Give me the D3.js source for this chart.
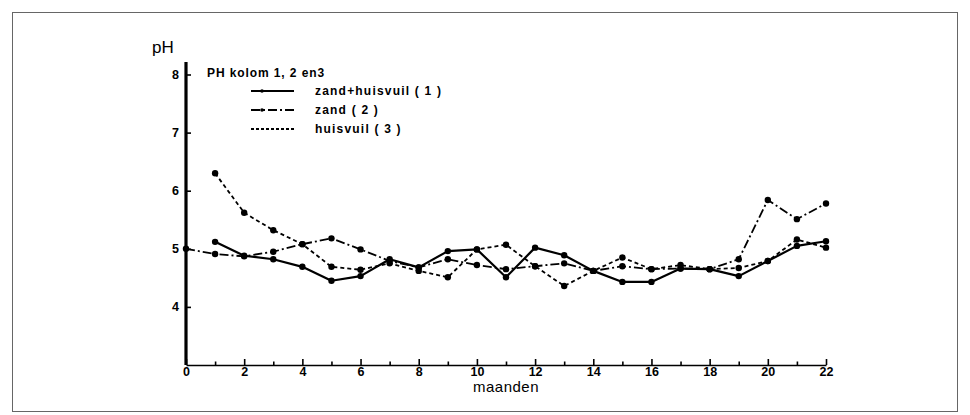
<!DOCTYPE html>
<html>
<head>
<meta charset="utf-8">
<script src="https://cdn.jsdelivr.net/npm/d3@7"></script>
<style>
  body { margin: 0; background: #fff; }
  svg { display: block; }
  text { font-family: "Liberation Sans", Arial, sans-serif; fill: #000; }
</style>
</head>
<body>
<div id="graph"></div>
<script>
// months 0..22, null = not measured
var months = [0, 1, 2, 3, 4, 5, 6, 7, 8, 9, 10, 11, 12, 13, 14, 15, 16, 17, 18, 19, 20, 21, 22];

var zandHuisvuil = [null, 5.12, 4.88, 4.82, 4.69, 4.45, 4.53, 4.82, 4.68, 4.96, 4.99, 4.51,
                    5.02, 4.89, 4.62, 4.43, 4.43, 4.66, 4.65, 4.53, 4.79, 5.05, 5.13];
var zand = [5.00, 4.91, 4.87, 4.95, 5.08, 5.18, 4.99, 4.79, 4.68, 4.82, 4.72, 4.65,
            4.70, 4.75, 4.62, 4.70, 4.65, 4.66, 4.65, 4.82, 5.84, 5.51, 5.78];
var huisvuil = [null, 6.30, 5.62, 5.32, 5.08, 4.69, 4.64, 4.75, 4.62, 4.51, 4.99, 5.07,
                4.70, 4.36, 4.62, 4.85, 4.65, 4.72, 4.65, 4.67, 4.79, 5.16, 5.02];

var seriesNames = ["zand+huisvuil ( 1 )", "zand ( 2 )", "huisvuil ( 3 )"];
var xTicks = [0, 2, 4, 6, 8, 10, 12, 14, 16, 18, 20, 22];
var yTicks = [4, 5, 6, 7, 8];

var width = 970, height = 415;
var svg = d3.select("#graph").append("svg")
    .attr("width", width).attr("height", height);

// outer frame
svg.append("rect")
    .attr("x", 12.5).attr("y", 12.5)
    .attr("width", 945).attr("height", 399)
    .attr("fill", "none").attr("stroke", "#666").attr("stroke-width", 1);

var x = d3.scaleLinear().domain([0, 22]).range([186, 826]);
var y = d3.scaleLinear().domain([3, 8]).range([365, 74.5]);

var styles = [
  { dash: null, width: 2.2 },
  { dash: "9,3,2,3", width: 1.8 },
  { dash: "4,3", width: 1.8 }
];

// x axis
var xAxis = svg.append("g")
    .attr("transform", "translate(0," + y(3) + ")")
    .call(d3.axisBottom(x).tickValues(months).tickSize(-6).tickSizeOuter(0).tickPadding(1)
      .tickFormat(function(d) { return xTicks.indexOf(d) >= 0 ? d : ""; }));
xAxis.select(".domain").attr("stroke-width", 1.6);
xAxis.selectAll(".tick line")
    .attr("y2", function(d) { return d % 2 ? -3.5 : -6; })
    .attr("stroke-width", 1.6);
xAxis.selectAll(".tick text")
    .attr("dy", "0.8em")
    .style("font-size", "12.5px").style("font-weight", "bold");

// y axis
var yAxis = svg.append("g")
    .attr("transform", "translate(" + x(0) + ",0)")
    .call(d3.axisLeft(y).tickValues(yTicks).tickSize(-5).tickPadding(7).tickFormat(d3.format("d")));
yAxis.select(".domain").remove();
yAxis.append("line")
    .attr("x1", 0).attr("x2", 0)
    .attr("y1", 62).attr("y2", y(3))
    .attr("stroke", "#000").attr("stroke-width", 3.2);
yAxis.selectAll(".tick line").attr("stroke-width", 1.6);
yAxis.selectAll(".tick text")
    .style("font-size", "12.5px").style("font-weight", "bold");

svg.append("text")
    .attr("x", 152).attr("y", 53)
    .style("font-size", "17px")
    .text("pH");

svg.append("text")
    .attr("x", x(11)).attr("y", 392)
    .attr("text-anchor", "middle")
    .style("font-size", "15px")
    .style("letter-spacing", "0.5px")
    .text("maanden");

// series
var allSeries = [zandHuisvuil, zand, huisvuil];
var line = d3.line()
    .defined(function(d) { return d != null; })
    .x(function(d, i) { return x(months[i]); })
    .y(function(d) { return y(d); });

allSeries.forEach(function(values, k) {
  svg.append("path")
      .datum(values)
      .attr("d", line)
      .attr("fill", "none")
      .attr("stroke", "#000")
      .attr("stroke-width", styles[k].width)
      .attr("stroke-dasharray", styles[k].dash)
      .attr("stroke-linejoin", "round");

  svg.selectAll(".dot" + k)
      .data(values.map(function(v, i) { return { m: months[i], v: v }; })
                  .filter(function(d) { return d.v != null; }))
      .enter().append("circle")
      .attr("class", "dot" + k)
      .attr("cx", function(d) { return x(d.m); })
      .attr("cy", function(d) { return y(d.v); })
      .attr("r", 3.2)
      .attr("fill", "#000");
});

// legend
svg.append("text")
    .attr("x", 207).attr("y", 77)
    .style("font-size", "12px").style("font-weight", "bold")
    .style("letter-spacing", "0.9px")
    .text("PH kolom 1, 2 en3");

var legend = svg.selectAll(".legend")
    .data(seriesNames)
    .enter().append("g")
    .attr("class", "legend")
    .attr("transform", function(d, i) { return "translate(0," + (91 + i * 19) + ")"; });

legend.append("line")
    .attr("x1", 251).attr("x2", 294)
    .attr("stroke", "#000")
    .attr("stroke-width", function(d, i) { return styles[i].width; })
    .attr("stroke-dasharray", function(d, i) { return i == 2 ? "3,2" : styles[i].dash; });
legend.filter(function(d, i) { return i < 2; }).append("circle")
    .attr("cx", 262).attr("cy", 0).attr("r", 1.8).attr("fill", "#000");

legend.append("text")
    .attr("x", 315).attr("y", 4)
    .style("font-size", "12px").style("font-weight", "bold")
    .style("letter-spacing", "1.2px")
    .text(function(d) { return d; });
</script>
</body>
</html>
